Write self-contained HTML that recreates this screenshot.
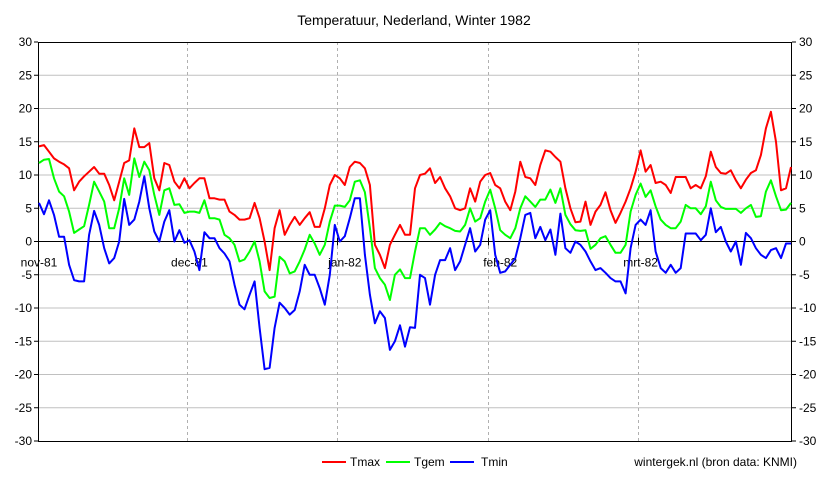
<!DOCTYPE html>
<html><head><meta charset="utf-8"><style>
html,body{margin:0;padding:0;background:#fff;}
svg{display:block;font-family:"Liberation Sans",Arial,sans-serif;}
</style></head><body>
<svg id="chart" width="829" height="483" viewBox="0 0 829 483" xmlns="http://www.w3.org/2000/svg">
<text x="414" y="25" text-anchor="middle" font-size="14" fill="#000">Temperatuur, Nederland, Winter 1982</text>
<g id="grid"></g>
<g id="axes"></g>
<g id="series"></g>
<g>
<line x1="322" y1="462" x2="346" y2="462" stroke="#ff0000" stroke-width="2"/>
<text x="350" y="466" font-size="12">Tmax</text>
<line x1="386" y1="462" x2="410" y2="462" stroke="#00ff00" stroke-width="2"/>
<text x="414" y="466" font-size="12">Tgem</text>
<line x1="450" y1="462" x2="474" y2="462" stroke="#0000ff" stroke-width="2"/>
<text x="481" y="466" font-size="12">Tmin</text>
</g>
<text x="797" y="466" text-anchor="end" font-size="12">wintergek.nl (bron data: KNMI)</text>
</svg>
<script>
const tmax = [14.3,14.5,13.5,12.5,12,11.6,11,7.7,9,9.8,10.5,11.2,10.2,10.2,8.5,6.2,9,11.8,12.2,17,14.2,14.2,14.8,9.5,7.7,11.8,
11.5,9,8,9.5,8,8.8,9.5,9.5,6.5,6.5,6.3,6.3,4.5,4,3.3,3.3,3.5,5.8,3.5,0,-4.3,2,4.7,1,
2.5,3.7,2.5,3.5,4.4,2.2,2.2,5,8.5,10,9.5,8.5,11.2,12,11.8,11,8.5,-0.5,-2,-4,-0.5,1,2.5,1,1,
8,10,10.2,11,8.8,9.7,8,6.8,5,4.7,5,8,6,9,10,10.3,8.5,8,6,4.7,7.5,12,9.7,9.5,8.5,
11.5,13.7,13.5,12.7,12,8,5,2.9,3,6,2.5,4.5,5.5,7.4,4.7,2.8,4.3,6,8,10.5,13.7,10.5,11.5,8.8,9,
8.5,7.3,9.7,9.7,9.7,8,8.5,8,9.8,13.5,11.2,10.3,10.2,10.7,9.2,8,9.3,10.3,10.7,13,17,19.5,15,7.7,8,11.2];
const tgem = [11.8,12.3,12.4,9.5,7.5,6.8,4.5,1.3,1.8,2.3,5.5,9,7.5,6,2,2,5,9.5,7,12.5,9.7,12,10.7,7,4,7.7,
8,5.5,5.6,4.3,4.5,4.5,4.3,6.2,3.5,3.5,3.3,1,0.5,-0.5,-3,-2.7,-1.5,0,-3,-7.5,-8.5,-8.3,-2.3,-3,
-4.8,-4.5,-3,-1.2,1,-0.3,-2,-0.5,3,5.4,5.4,5.2,6.2,9,9.2,7.4,2,-4,-5.5,-6.5,-8.8,-5,-4.2,-5.5,-5.5,
-1.5,2,2,1,1.8,2.8,2.3,2,1.6,1.5,2.5,5,3,3.5,6,7.8,5,1.7,1,0.5,2,5,6.8,6,5.2,
6.3,6.3,7.8,5.8,8,4,2.6,1.7,1.6,1.7,-1.1,-0.5,0.5,0.8,-0.5,-1.7,-1.7,-0.5,4.5,7,8.7,6.7,7.7,5.3,3.3,
2.5,2,2,3,5.5,5,5,4.1,5.3,9,6.2,5.2,4.9,4.9,4.9,4.3,5,5.5,3.7,3.8,7.5,9.2,6.8,4.7,4.8,5.8];
const tmin = [5.8,4.1,6.2,4,0.7,0.7,-3.5,-5.8,-6,-6,1,4.6,2.5,-1,-3.3,-2.5,0,6.4,2.5,3.3,6,9.8,5,1.5,0,3,
4.7,0,1.7,-0.2,0.2,-1.5,-4.3,1.4,0.5,0.5,-1,-1.8,-3,-6.5,-9.5,-10.2,-8,-6,-13,-19.2,-19,-13,-9.2,-10,
-11,-10.3,-7.5,-3.5,-5,-5,-7,-9.5,-5,2.5,0,0.8,3.5,6.5,6.5,-2,-8,-12.3,-10.5,-11.5,-16.3,-15,-12.6,-15.8,-12.9,
-13,-5,-5.5,-9.5,-5,-2.8,-2.8,-1,-4.3,-3,-0.5,2,-1.5,-0.5,3.3,4.7,-2,-4.7,-4.5,-3.5,-2.5,0.5,4,4.3,0.5,
2.2,0.2,1.8,-2,4.2,-1,-1.7,0,-0.5,-1.5,-3,-4.3,-4,-4.7,-5.5,-6,-6,-7.8,-1,2.5,3.3,2.5,4.7,-1.5,-4,
-4.7,-3.5,-4.7,-4,1.2,1.2,1.2,0.2,1,5,1.4,2.2,0,-1.5,0,-3.5,1.3,0.5,-1,-2,-2.5,-1.3,-1,-2.5,-0.3,-0.3];
const yTicks = [30,25,20,15,10,5,0,-5,-10,-15,-20,-25,-30];
const monthLabels = ["nov-81","dec-81","jan-82","feb-82","mrt-82"];
const monthStarts = [0,30,61,92,120];
const gridCats = [30,60,90,120];

const NS = "http://www.w3.org/2000/svg";
const L = 38, R = 792, T = 42, B = 441;
const N = tmax.length;
function xs(i){ return L + 1 + i * (R - L - 2) / (N - 1); }
function ys(v){ return T + (30 - v) * (B - T) / 60; }
function mk(tag, attrs, parent){
  const e = document.createElementNS(NS, tag);
  for (const k in attrs) e.setAttribute(k, attrs[k]);
  parent.appendChild(e);
  return e;
}
const grid = document.getElementById('grid');
const axes = document.getElementById('axes');
const series = document.getElementById('series');

yTicks.forEach(v => {
  const y = ys(v);
  if (v !== 30 && v !== -30 && v !== 0) {
    const g = mk('line', {x1:L, x2:R, y1:y, y2:y, stroke:'#c0c0c0', 'stroke-width':1}, grid);
    
    
  }
  const tl = mk('line', {x1:L-4, x2:L, y1:y, y2:y, stroke:'#000'}, axes);
  
  
  const tr = mk('line', {x1:R, x2:R+4, y1:y, y2:y, stroke:'#000'}, axes);
  
  
  const a = mk('text', {x:L-6, y:y+4, 'text-anchor':'end', 'font-size':12}, axes);
  a.textContent = v;
  
  
  const b = mk('text', {x:R+7, y:y+4, 'text-anchor':'start', 'font-size':12}, axes);
  b.textContent = v;
  
  
});
gridCats.forEach(c => {
  const x = Math.round(xs(c) - 2.5) + 0.5;
  const g = mk('line', {x1:x, x2:x, y1:T, y2:B, stroke:'#b0b0b0', 'stroke-dasharray':'3,3'}, grid);
  
  
  const t = mk('line', {x1:x, x2:x, y1:ys(0)-4, y2:ys(0)+4, stroke:'#000'}, axes);
  
  
});
const zero = mk('line', {x1:L, x2:R, y1:ys(0), y2:ys(0), stroke:'#000'}, axes);


const frame = mk('rect', {x:L+0.5, y:T+0.5, width:R-L-1, height:B-T, fill:'none', stroke:'#000'}, axes);


monthLabels.forEach((m, k) => {
  const t = mk('text', {x:xs(monthStarts[k]), y:ys(0)+25, 'text-anchor':'middle', 'font-size':12}, axes);
  t.textContent = m;
  
  
});
[[tmax,'#ff0000','tmax-line'],[tgem,'#00ff00','tgem-line'],[tmin,'#0000ff','tmin-line']].forEach(s => {
  const pts = s[0].map((v,i) => xs(i).toFixed(1) + ',' + ys(v).toFixed(1)).join(' ');
  const p = mk('polyline', {points:pts, fill:'none', stroke:s[1], 'stroke-width':2, 'stroke-linejoin':'round'}, series);
  
  
});
</script>
</body></html>
